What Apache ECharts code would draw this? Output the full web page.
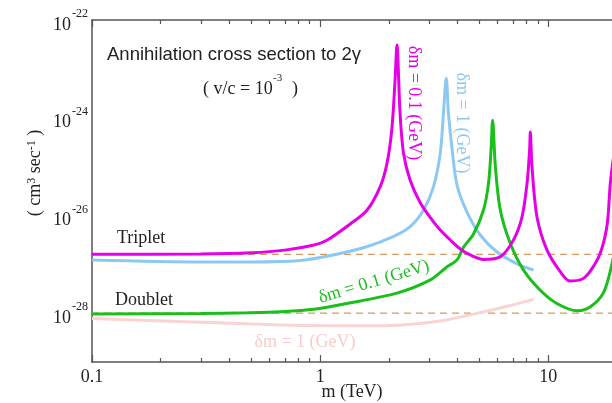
<!DOCTYPE html>
<html>
<head>
<meta charset="utf-8">
<script src="https://cdn.jsdelivr.net/npm/echarts@6/dist/echarts.min.js"></script>
<style>
html, body { margin: 0; padding: 0; background: #fff; }
#main { width: 612px; height: 403px; }
</style>
</head>
<body>
<div id="main"></div>
<script>
// perturbative levels (cm^3/s)
const tripletLevel = 1.6e-27
const doubletLevel = 1.0e-28

// Triplet, dm = 0.1 GeV (magenta)
const mTriplet01 = [0.1, 0.3, 0.5, 0.7, 0.93, 1.07, 1.35, 1.6, 1.83, 1.96, 2.06, 2.13, 2.17, 2.24, 2.32, 2.48, 2.75, 3.14, 3.36, 3.72, 4.11, 4.55, 5.2, 6.16, 7.04, 7.67, 8.07, 8.28, 8.34, 8.48, 8.92, 9.87, 11.3, 12.4, 14.1, 15.3, 16.9, 18.1, 18.7, 19.5]
const sTriplet01 = [1.60e-27, 1.62e-27, 1.72e-27, 1.95e-27, 2.45e-27, 3.10e-27, 6.6e-27, 1.26e-26, 3.80e-26, 1.12e-25, 5.62e-25, 5.89e-24, 3.09e-23, 1.23e-24, 1.86e-25, 5.25e-26, 1.80e-26, 7.35e-27, 5.04e-27, 3.14e-27, 2.06e-27, 1.55e-27, 1.26e-27, 1.43e-27, 3.16e-27, 9.33e-27, 4.57e-26, 2.19e-25, 5.13e-25, 1.00e-25, 9.33e-27, 1.95e-27, 6.97e-28, 4.55e-28, 5.0e-28, 7.3e-28, 1.70e-27, 6.37e-27, 4.57e-26, 2.2e-25]

// Triplet, dm = 1 GeV (light blue)
const mTriplet1 = [0.1, 0.3, 0.5, 0.82, 1.14, 1.6, 2.1, 2.48, 2.84, 3.14, 3.36, 3.47, 3.57, 3.65, 3.79, 3.98, 4.4, 5.03, 5.96, 7.29, 8.62]
const sTriplet1 = [1.23e-27, 1.12e-27, 1.12e-27, 1.20e-27, 1.55e-27, 2.29e-27, 3.72e-27, 5.89e-27, 1.29e-26, 3.89e-26, 1.86e-25, 1.23e-24, 6.46e-24, 1.23e-24, 2.19e-25, 4.17e-26, 1.17e-26, 3.98e-27, 1.78e-27, 1.02e-27, 7.59e-28]

// Doublet, dm = 0.1 GeV (green)
const mDoublet01 = [0.1, 0.3, 0.48, 0.67, 0.94, 1.31, 2.17, 3.04, 3.6, 3.98, 4.25, 4.7, 5.2, 5.47, 5.61, 5.70, 5.86, 6.16, 6.81, 7.79, 9.22, 10.9, 13.4, 15.3, 17.5, 19.1, 20]
const sDoublet01 = [9.6e-29, 9.8e-29, 1.02e-28, 1.07e-28, 1.20e-28, 1.58e-28, 2.57e-28, 4.79e-28, 8.91e-28, 1.23e-27, 2.24e-27, 4.17e-27, 1.29e-26, 4.57e-26, 2.19e-25, 8.91e-25, 1.00e-25, 1.29e-26, 2.69e-27, 7.59e-28, 2.95e-28, 1.58e-28, 1.12e-28, 1.35e-28, 2.69e-28, 1.12e-27, 3.98e-27]

// Doublet, dm = 1 GeV (faint pink)
const mDoublet1 = [0.1, 0.24, 0.67, 1.83, 3.36, 4.7, 6.6, 8.62]
const sDoublet1 = [7.76e-29, 6.76e-29, 5.75e-29, 5.50e-29, 6.92e-29, 9.55e-29, 1.38e-28, 1.91e-28]

// ticks
const xLabels = [0.1, 1, 10]
const xMinor = [0.2, 0.3, 0.4, 0.5, 0.6, 0.7, 0.8, 0.9, 2, 3, 4, 5, 6, 7, 8, 9]
const yMajor = [1e-29, 1e-28, 1e-27, 1e-26, 1e-25, 1e-24, 1e-23, 1e-22]
const yLabels = [1e-28, 1e-26, 1e-24, 1e-22]
const yMinor = [2e-29, 5e-29, 2e-28, 5e-28, 2e-27, 5e-27, 2e-26, 5e-26, 2e-25, 5e-25, 2e-24, 5e-24, 2e-23, 5e-23]

const xMin = 0.1, xMax = 20
const yMin = 1e-29, yMax = 1e-22

const serif = 'Liberation Serif'
const axisColor = '#555'

const pts = (xs, ys) => xs.map((x, i) => [x, ys[i]])

function xAx(position, values, len, withLine, withLabel) {
  return {
    type: 'log', position, min: xMin, max: xMax,
    axisLine: { show: withLine, lineStyle: { color: axisColor, width: 1.5 } },
    axisTick: { show: true, inside: true, length: len, customValues: values, lineStyle: { color: axisColor, width: 1.2 } },
    axisLabel: withLabel ? {
      customValues: values, margin: 6, color: '#222', fontFamily: serif, fontSize: 18,
      formatter: v => String(Number(v.toPrecision(3)))
    } : { show: false },
    splitLine: { show: false }
  }
}

function yAx(values, len, withLine) {
  return {
    type: 'log', position: 'left', min: yMin, max: yMax,
    axisLine: { show: withLine, lineStyle: { color: axisColor, width: 1.5 } },
    axisTick: { show: true, inside: true, length: len, customValues: values, lineStyle: { color: axisColor, width: 1.2 } },
    axisLabel: { show: false },
    splitLine: { show: false }
  }
}

const line = (data, color, width, z) => ({
  type: 'line', data, showSymbol: false, smooth: 0.3,
  lineStyle: { color, width }, z, silent: true
})

const dashed = level => ({
  type: 'line', data: [[xMin, level], [xMax, level]], showSymbol: false, silent: true, z: 1,
  lineStyle: { color: '#d39a64', width: 1.3, type: [7, 5] }
})

const txt = (text, x, y, color, opts) => Object.assign({
  type: 'text', x, y,
  style: Object.assign({ text, fill: color, fontFamily: serif, fontSize: 18, textAlign: 'center', textVerticalAlign: 'middle' }, opts && opts.style)
}, opts && opts.el)

const notes = [
  txt('Annihilation cross section to 2γ', 107, 55, '#222', { style: { fontFamily: 'Liberation Sans', fontSize: 18.5, textAlign: 'left' } }),
  txt('( v/c = 10', 203, 89, '#222', { style: { fontSize: 18, textAlign: 'left' } }),
  txt('-3', 273, 78, '#222', { style: { fontSize: 11, textAlign: 'left' } }),
  txt(')', 292, 89, '#222', { style: { fontSize: 18, textAlign: 'left' } }),
  txt('{a|( cm}{s|3}{a| sec}{s|-1}{a| )}', 35, 173, '#222', { el: { rotation: Math.PI / 2 }, style: { rich: {
    a: { fontFamily: serif, fontSize: 18, lineHeight: 18, verticalAlign: 'bottom', padding: [8, 0, 0, 0], color: '#222' },
    s: { fontFamily: serif, fontSize: 12, lineHeight: 12, verticalAlign: 'top', color: '#222' }
  } } }),
  txt('m (TeV)', 352, 392, '#222'),
  txt('Triplet', 117, 238, '#222', { style: { textAlign: 'left' } }),
  txt('Doublet', 115, 300, '#222', { style: { textAlign: 'left' } }),
  txt('δm = 0.1 (GeV)', 414, 103, '#e600e6', { el: { rotation: -Math.PI / 2 } }),
  txt('δm = 1 (GeV)', 462, 123, '#8dc8f3', { el: { rotation: -Math.PI / 2 } }),
  txt('δm = 0.1 (GeV)', 374, 282, '#1bbf1b', { el: { rotation: 0.29 } }),
  txt('δm = 1 (GeV)', 305, 342, '#f8cccc')
]

const chart = echarts.init(document.getElementById('main'))
chart.setOption({
  animation: false,
  grid: { left: 92, top: 20, width: 525, height: 342, outerBoundsMode: 'none' },
  xAxis: [
    xAx('bottom', xLabels, 7, true, true),
    xAx('bottom', xMinor, 4, false, false),
    xAx('top', xLabels, 7, true, false),
    xAx('top', xMinor, 4, false, false)
  ],
  yAxis: [
    yAx(yMajor, 7, true),
    yAx(yMinor, 4, false)
  ],
  series: [
    dashed(tripletLevel),
    dashed(doubletLevel),
    line(pts(mDoublet1, sDoublet1), '#fad3d3', 3, 2),
    line(pts(mTriplet1, sTriplet1), '#8dc8f3', 3, 3),
    line(pts(mDoublet01, sDoublet01), '#1bbf1b', 3, 4),
    line(pts(mTriplet01, sTriplet01), '#e600e6', 3, 5)
  ],
  graphic: notes
})

// y tick labels "10^n", placed with the axis' own scale
const yTickText = []
yLabels.forEach(v => {
  const py = chart.convertToPixel({ yAxisIndex: 0 }, v)
  yTickText.push(txt('10', 71, py + 5, '#222', { style: { textAlign: 'right' } }))
  yTickText.push(txt(String(Math.round(Math.log10(v))), 72, py - 6, '#222', { style: { textAlign: 'left', fontSize: 12 } }))
})
chart.setOption({ graphic: notes.concat(yTickText) })
</script>
</body>
</html>
